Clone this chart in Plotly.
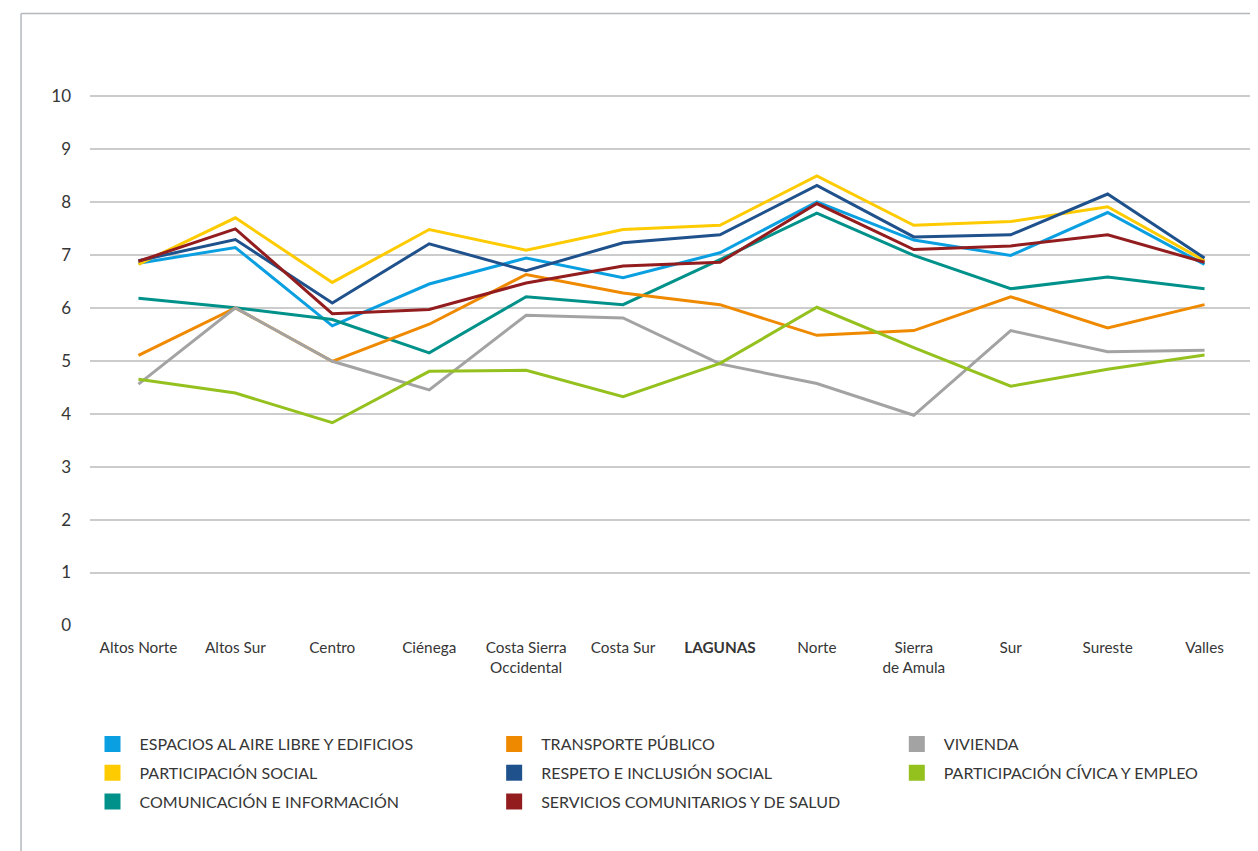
import plotly.graph_objects as go

categories = ["Altos Norte", "Altos Sur", "Centro", "Ciénega", "Costa Sierra<br>Occidental",
              "Costa Sur", "<b>LAGUNAS</b>", "Norte", "Sierra<br>de Amula", "Sur", "Sureste", "Valles"]

espacios = [6.84, 7.14, 5.66, 6.45, 6.94, 6.57, 7.04, 8.00, 7.28, 6.99, 7.80, 6.82]
part_social = [6.82, 7.70, 6.48, 7.48, 7.09, 7.48, 7.56, 8.49, 7.56, 7.63, 7.91, 6.89]
comunicacion = [6.18, 6.00, 5.78, 5.15, 6.21, 6.06, 6.91, 7.79, 6.99, 6.36, 6.58, 6.36]
transporte = [5.10, 6.00, 4.99, 5.69, 6.63, 6.28, 6.06, 5.48, 5.57, 6.21, 5.62, 6.06]
respeto = [6.89, 7.29, 6.09, 7.21, 6.70, 7.23, 7.38, 8.31, 7.34, 7.38, 8.15, 6.94]
servicios = [6.88, 7.49, 5.89, 5.97, 6.47, 6.79, 6.86, 7.97, 7.10, 7.17, 7.38, 6.86]
vivienda = [4.56, 6.00, 4.99, 4.45, 5.86, 5.81, 4.94, 4.57, 3.97, 5.57, 5.17, 5.20]
part_civica = [4.65, 4.39, 3.83, 4.80, 4.82, 4.32, 4.95, 6.01, 5.25, 4.52, 4.84, 5.11]

series = [
    ("ESPACIOS AL AIRE LIBRE Y EDIFICIOS", espacios, "#0a9fe0", "legend"),
    ("PARTICIPACIÓN SOCIAL", part_social, "#fecb00", "legend"),
    ("COMUNICACIÓN E INFORMACIÓN", comunicacion, "#00928a", "legend"),
    ("TRANSPORTE PÚBLICO", transporte, "#ef8a00", "legend2"),
    ("RESPETO E INCLUSIÓN SOCIAL", respeto, "#1f518c", "legend2"),
    ("SERVICIOS COMUNITARIOS Y DE SALUD", servicios, "#921c1e", "legend2"),
    ("VIVIENDA", vivienda, "#a3a3a3", "legend3"),
    ("PARTICIPACIÓN CÍVICA Y EMPLEO", part_civica, "#95c11f", "legend3"),
]

FONT = "Lato"
TXT = "#363636"
fig = go.Figure()
xs = list(range(len(categories)))
for name, vals, color, _ in series:
    fig.add_trace(go.Scatter(x=xs, y=vals, mode="lines", name=name,
                             line=dict(color=color, width=3), showlegend=False,
                             hoverinfo="y+name"))

for i, (name, vals, color, lg) in enumerate(series):
    fig.add_trace(go.Scatter(x=[None], y=[None], mode="markers", name=name,
                             marker=dict(symbol="square", size=16, color=color),
                             legend=lg, legendgroup=f"g{i}", showlegend=True))

# page body has an 8px margin; positions below are in reference-pixel terms
OFF = 8
W, H = 1258, 851
plot_left, plot_right, plot_top, plot_bottom = 89.5, 1253.5, 95, 626
L = plot_left - OFF
T = plot_top - OFF
R = W - (plot_right - OFF)
B = H - (plot_bottom - OFF)
pw = plot_right - plot_left
ph = plot_bottom - plot_top

def px_x(p):
    return (p - plot_left) / pw

def px_y(p):
    return (plot_bottom - p) / ph

legend_common = dict(orientation="v", yanchor="top", xanchor="left", y=px_y(727),
                     font=dict(family=FONT, size=16, color=TXT),
                     tracegroupgap=5, bgcolor="rgba(0,0,0,0)", borderwidth=0,
                     itemwidth=44, itemclick=False)

fig.update_layout(
    width=W, height=H,
    margin=dict(l=L, r=R, t=T, b=B, pad=0),
    paper_bgcolor="white", plot_bgcolor="white",
    font=dict(family=FONT, color=TXT),
    xaxis=dict(tickmode="array", tickvals=xs, ticktext=categories, range=[-0.5, 11.5],
               showgrid=False, zeroline=False, showline=False, ticks="",
               tickfont=dict(family=FONT, size=15.3, color=TXT),
               ticklabelstandoff=11),
    yaxis=dict(range=[-0.01, 10.02], tickvals=list(range(0, 11)), showgrid=True,
               gridcolor="#cccccc", gridwidth=1.5, zeroline=False, showline=False,
               ticks="", tickfont=dict(family=FONT, size=17, color=TXT),
               ticklabelstandoff=18),
    legend=dict(x=px_x(85), **legend_common),
    legend2=dict(x=px_x(487), **legend_common),
    legend3=dict(x=px_x(890), **legend_common),
    shapes=[
        dict(type="line", xref="paper", yref="paper", x0=px_x(20.5), x1=px_x(1275),
             y0=px_y(13.5), y1=px_y(13.5), line=dict(color="#b4b8bc", width=1.5)),
        dict(type="line", xref="paper", yref="paper", x0=px_x(20.5), x1=px_x(20.5),
             y0=px_y(13.5), y1=px_y(870), line=dict(color="#b4b8bc", width=1.5)),
    ],
)

fig.write_html("out.html")
